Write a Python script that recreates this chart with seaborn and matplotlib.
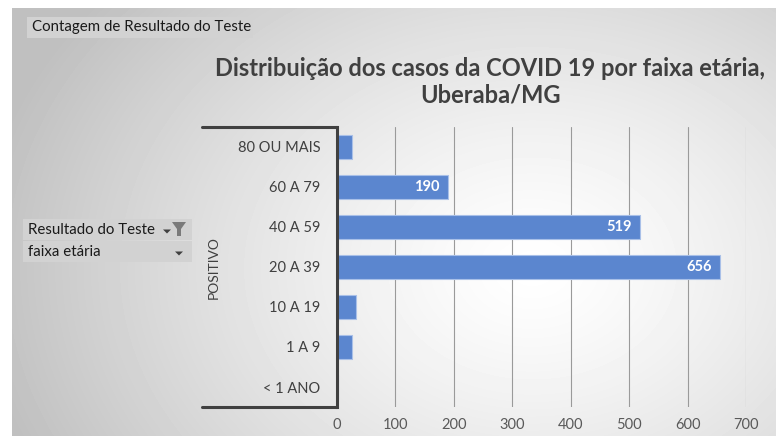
import matplotlib.pyplot as plt
import matplotlib.patches as mpatches
from matplotlib.lines import Line2D
import numpy as np
import pandas as pd
import seaborn as sns

# Dados
faixas = ['80 OU MAIS', '60 A 79', '40 A 59', '20 A 39', '10 A 19', '1 A 9', '< 1 ANO']
casos = [26, 190, 519, 656, 33, 25, 1]
ticks_x = [0, 100, 200, 300, 400, 500, 600, 700]

dados = pd.DataFrame({'faixa': faixas, 'casos': casos})

sns.set_theme(style='white')
plt.rcParams['font.family'] = ['Lato', 'DejaVu Sans']

W, H = 776, 436
fig = plt.figure(figsize=(W / 100, H / 100), dpi=100)
fig.patch.set_facecolor('white')

# fundo com gradiente radial (estilo Excel)
bg = fig.add_axes([12 / W, 0, 1 - 12 / W, 1 - 8 / H], zorder=0)
yy, xx = np.mgrid[0:428, 0:764]
r = np.sqrt(((xx - 520) / 560) ** 2 + ((yy - 260) / 430) ** 2)
r = np.clip(r, 0, 1)
img = 1.0 - 0.25 * r ** 1.3
bg.imshow(img, cmap='gray', vmin=0, vmax=1, aspect='auto', interpolation='bilinear')
bg.axis('off')

# área do gráfico
x0, x1 = 337 / W, 746 / W
y_top, y_bot = 127, 407
ax = fig.add_axes([x0, 1 - y_bot / H, x1 - x0, (y_bot - y_top) / H], zorder=2)
ax.patch.set_alpha(0)

sns.barplot(data=dados, x='casos', y='faixa', orient='h', color='#5b86cf',
            width=0.58, edgecolor='#a9c0e8', linewidth=0.8, saturation=1, ax=ax)

ax.set_xlim(0, 700)
ax.set_xticks(ticks_x)
ax.set_xticklabels([str(t) for t in ticks_x], fontsize=10.5, color='#595959')
ax.tick_params(axis='x', length=0, pad=8)
ax.tick_params(axis='y', length=0, pad=12, labelsize=10.5, labelcolor='#404040')
ax.set_xlabel('')
ax.set_ylabel('')
for t in ticks_x[1:]:
    ax.axvline(t, color='#9a9a9a', lw=0.8, zorder=0)
for s in ['top', 'right', 'bottom']:
    ax.spines[s].set_visible(False)
ax.spines['left'].set_color('#404040')
ax.spines['left'].set_linewidth(2.2)
ax.set_axisbelow(True)

# rótulos de dados
for cont, v in zip(ax.containers[0], casos):
    if v > 100:
        ax.text(v - 14, cont.get_y() + cont.get_height() / 2, str(v), ha='right',
                va='center', color='white', fontsize=10.5, fontweight='bold')

# colchete do eixo de categorias
for yl in (y_top, y_bot):
    fig.add_artist(Line2D([202 / W, x0], [1 - yl / H, 1 - yl / H], color='#404040', lw=2.2, zorder=3))
fig.text(214 / W, 1 - 268 / H, 'POSITIVO', rotation=90, ha='center', va='center',
         fontsize=10, color='#404040')

# título
fig.text(490 / W, 1 - 68 / H, 'Distribuição dos casos da COVID 19 por faixa etária,',
         ha='center', va='center', fontsize=17, fontweight='bold', color='#404040')
fig.text(490 / W, 1 - 95 / H, 'Uberaba/MG', ha='center', va='center',
         fontsize=17, fontweight='bold', color='#404040')

# botões da tabela dinâmica
def botao(xa, ya, xb, yb, texto, seta=True, funil=False):
    fig.add_artist(mpatches.Rectangle((xa / W, 1 - yb / H), (xb - xa) / W, (yb - ya) / H,
                                      facecolor='#d2d2d2', edgecolor='none', zorder=3))
    fig.text((xa + 5) / W, 1 - (ya + yb) / 2 / H, texto, ha='left', va='center',
             fontsize=10.8, color='#1a1a1a', zorder=4)
    if seta:
        xc = (xb - 13) if not funil else (xb - 25)
        yc = (ya + yb) / 2 + 2
        fig.add_artist(mpatches.Polygon([((xc - 4) / W, 1 - (yc - 2) / H), ((xc + 4) / W, 1 - (yc - 2) / H),
                                         (xc / W, 1 - (yc + 2) / H)], closed=True,
                                        facecolor='#404040', edgecolor='none', zorder=4))
    if funil:
        xc, yt = xb - 13, ya + 3
        pts = [(xc - 7, yt), (xc + 7, yt), (xc + 2, yt + 7), (xc + 2, yt + 14),
               (xc - 2, yt + 14), (xc - 2, yt + 7)]
        fig.add_artist(mpatches.Polygon([(px / W, 1 - py / H) for px, py in pts], closed=True,
                                        facecolor='#7a7a7a', edgecolor='none', zorder=4))

botao(27, 17, 253, 38, 'Contagem de Resultado do Teste', seta=False)
botao(23, 219, 192, 240, 'Resultado do Teste', seta=True, funil=True)
botao(23, 241, 192, 262, 'faixa etária', seta=True)

fig.savefig('out.png', dpi=100)
